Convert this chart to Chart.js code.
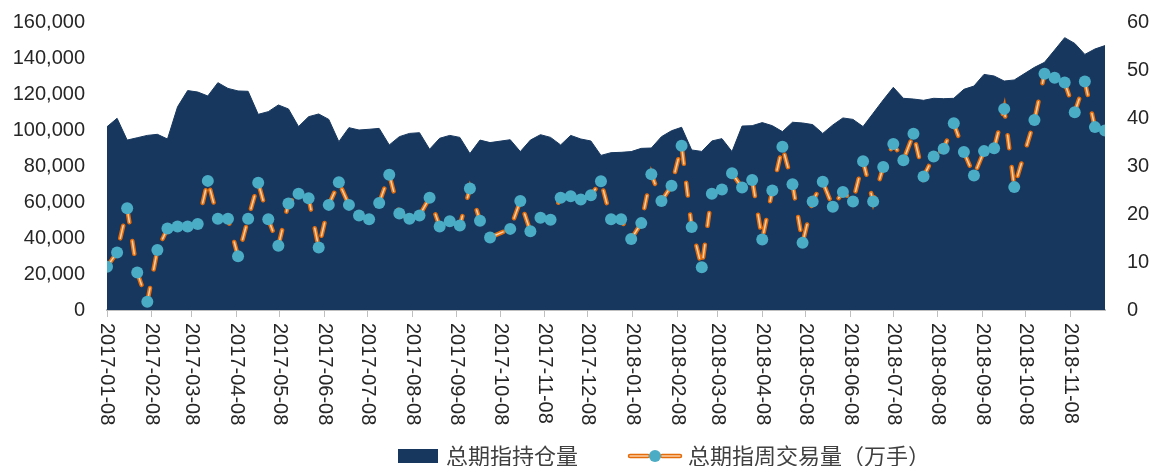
<!DOCTYPE html>
<html>
<head>
<meta charset="utf-8">
<script src="https://cdn.jsdelivr.net/npm/chart.js@4.4.1/dist/chart.umd.min.js"></script>
<style>
  html, body { margin: 0; padding: 0; background: #fff; }
  #wrap { width: 1152px; height: 466px; }
</style>
</head>
<body>
<div id="wrap"><canvas id="futuresChart"></canvas></div>
<script>
// weekly dates (week ending), holiday weeks 2017-10-08 and 2018-10-07 have no data
const weekDates = [
  '2017-01-08','2017-01-15','2017-01-22','2017-01-29','2017-02-05','2017-02-12','2017-02-19','2017-02-26',
  '2017-03-05','2017-03-12','2017-03-19','2017-03-26','2017-04-02','2017-04-09','2017-04-16','2017-04-23',
  '2017-04-30','2017-05-07','2017-05-14','2017-05-21','2017-05-28','2017-06-04','2017-06-11','2017-06-18',
  '2017-06-25','2017-07-02','2017-07-09','2017-07-16','2017-07-23','2017-07-30','2017-08-06','2017-08-13',
  '2017-08-20','2017-08-27','2017-09-03','2017-09-10','2017-09-17','2017-09-24','2017-10-01',
  '2017-10-15','2017-10-22','2017-10-29','2017-11-05','2017-11-12','2017-11-19','2017-11-26','2017-12-03',
  '2017-12-10','2017-12-17','2017-12-24','2017-12-31',
  '2018-01-07','2018-01-14','2018-01-21','2018-01-28','2018-02-04','2018-02-11','2018-02-18','2018-02-25',
  '2018-03-04','2018-03-11','2018-03-18','2018-03-25','2018-04-01','2018-04-08','2018-04-15','2018-04-22',
  '2018-04-29','2018-05-06','2018-05-13','2018-05-20','2018-05-27','2018-06-03','2018-06-10','2018-06-17',
  '2018-06-24','2018-07-01','2018-07-08','2018-07-15','2018-07-22','2018-07-29','2018-08-05','2018-08-12',
  '2018-08-19','2018-08-26','2018-09-02','2018-09-09','2018-09-16','2018-09-23','2018-09-30',
  '2018-10-14','2018-10-21','2018-10-28','2018-11-04','2018-11-11','2018-11-18','2018-11-25','2018-12-02'
];

// 总期指持仓量
const openInterest = [
  101800,106500,94400,95700,97000,97600,95000,112900,121900,121100,
  118900,126300,123100,121700,121500,108700,110200,113900,111700,101900,
  107400,108900,105900,93500,101300,100000,100400,100900,91700,96300,
  98100,98500,89300,95400,97000,95900,86900,94400,93000,
  94600,88000,94400,97400,95900,91700,97000,95000,93900,85900,87400,87600,
  88000,89800,90000,96300,99600,101500,88900,88100,
  93900,95200,88000,102200,102400,104100,102400,99100,104300,103900,
  103000,98100,102800,106700,105900,101900,109300,116700,123700,117600,
  117200,116500,117600,117400,117600,122600,124400,130900,130000,127200,
  127800,
  134800,137600,144400,151300,148100,142000,145000,146900
];

// 总期指周交易量（万手）
const weeklyVolume = [
  9.0,12.0,21.2,7.8,1.7,12.5,17.0,17.4,17.4,17.9,
  26.9,19.0,19.0,11.2,19.0,26.5,18.9,13.4,22.2,24.2,
  23.3,13.0,21.9,26.6,21.9,19.7,18.9,22.3,28.2,20.1,
  19.0,19.7,23.4,17.4,18.5,17.6,25.3,18.6,15.1,
  16.9,22.7,16.4,19.2,18.8,23.4,23.7,23.0,23.9,26.8,18.9,18.9,
  14.8,18.1,28.3,22.7,25.9,34.2,17.3,8.9,
  24.2,25.1,28.5,25.5,27.1,14.7,24.9,34.0,26.2,14.0,
  22.6,26.7,21.5,24.6,22.6,31.0,22.6,29.8,34.6,31.2,
  36.7,27.8,32.0,33.6,38.9,32.9,28.0,33.1,33.7,41.9,
  25.6,
  39.6,49.2,48.4,47.4,41.2,47.6,38.1,37.4
];

const monthTicks = [
  '2017-01-08','2017-02-08','2017-03-08','2017-04-08','2017-05-08','2017-06-08','2017-07-08','2017-08-08',
  '2017-09-08','2017-10-08','2017-11-08','2017-12-08','2018-01-08','2018-02-08','2018-03-08','2018-04-08',
  '2018-05-08','2018-06-08','2018-07-08','2018-08-08','2018-09-08','2018-10-08','2018-11-08'
];

const seriesNames = ['总期指持仓量', '总期指周交易量（万手）'];

const NAVY = '#17375e';
const ORANGE = '#e46c0a';
const ORANGE_LIGHT = '#fbd0a8';
const TEAL = '#4bacc6';
const LATIN = '"Liberation Sans", Arial, sans-serif';
const CJK = '"Noto Sans CJK SC", "Noto Sans", sans-serif';

// days since first date, used as x value
function dayOf(s) {
    const p = s.split('-').map(Number);
    return (Date.UTC(p[0], p[1] - 1, p[2]) - Date.UTC(2017, 0, 8)) / 86400000;
}

const holdPoints = weekDates.map((d, i) => ({ x: dayOf(d), y: openInterest[i] }));
const volPoints = weekDates.map((d, i) => ({ x: dayOf(d), y: weeklyVolume[i] }));

// rotated month labels under the x axis (read top to bottom)
const xLabelPlugin = {
    id: 'xLabels',
    afterDraw(chart) {
        const ctx = chart.ctx;
        const xs = chart.scales.x;
        ctx.save();
        ctx.font = '20px ' + LATIN;
        ctx.fillStyle = '#262626';
        ctx.textAlign = 'left';
        ctx.textBaseline = 'middle';
        monthTicks.forEach(t => {
            const px = xs.getPixelForValue(dayOf(t));
            ctx.save();
            ctx.translate(px, xs.top + 13);
            ctx.rotate(Math.PI / 2);
            ctx.fillText(t, 0, 0);
            ctx.restore();
        });
        ctx.restore();
    }
};

// legend at the bottom
const legendPlugin = {
    id: 'bottomLegend',
    afterDraw(chart) {
        const ctx = chart.ctx;
        const cy = 456;
        ctx.save();
        ctx.font = '22px ' + CJK;
        ctx.textBaseline = 'middle';
        ctx.textAlign = 'left';

        // 1. area item
        let x = 398;
        ctx.fillStyle = NAVY;
        ctx.fillRect(x, cy - 7, 40, 14);
        ctx.fillStyle = '#404040';
        ctx.fillText(seriesNames[0], x + 48, cy);
        x += 48 + ctx.measureText(seriesNames[0]).width + 52;

        // 2. line item
        ctx.lineCap = 'round';
        [[x, x + 18], [x + 32, x + 50]].forEach(seg => {
            ctx.strokeStyle = ORANGE;
            ctx.lineWidth = 4.5;
            ctx.beginPath(); ctx.moveTo(seg[0], cy); ctx.lineTo(seg[1], cy); ctx.stroke();
            ctx.strokeStyle = ORANGE_LIGHT;
            ctx.lineWidth = 1.5;
            ctx.beginPath(); ctx.moveTo(seg[0], cy); ctx.lineTo(seg[1], cy); ctx.stroke();
        });
        ctx.fillStyle = TEAL;
        ctx.beginPath(); ctx.arc(x + 25, cy, 6, 0, Math.PI * 2); ctx.fill();
        ctx.fillStyle = '#404040';
        ctx.fillText(seriesNames[1], x + 58, cy);
        ctx.restore();
    }
};

// invisible tick marks give the gap between plot and axis labels
const hiddenTicks = { display: true, drawOnChartArea: false, drawTicks: true, tickLength: 22, color: 'rgba(0,0,0,0)' };

const config = {
    type: 'line',
    data: {
        datasets: [{
            label: seriesNames[0],
            data: holdPoints,
            yAxisID: 'y',
            fill: 'origin',
            backgroundColor: NAVY,
            borderColor: NAVY,
            borderWidth: 1,
            pointRadius: 0,
            tension: 0,
            order: 3
        }, {
            label: seriesNames[1],
            data: volPoints,
            yAxisID: 'y1',
            borderColor: ORANGE,
            borderWidth: 4.5,
            borderDash: [13, 19],
            borderCapStyle: 'round',
            pointRadius: 0,
            fill: false,
            tension: 0,
            order: 2
        }, {
            label: seriesNames[1],
            data: volPoints,
            yAxisID: 'y1',
            borderColor: ORANGE_LIGHT,
            borderWidth: 1.5,
            borderDash: [13, 19],
            borderCapStyle: 'round',
            pointRadius: 6,
            pointBackgroundColor: TEAL,
            pointBorderColor: TEAL,
            pointBorderWidth: 0,
            fill: false,
            tension: 0,
            order: 1
        }]
    },
    options: {
        responsive: true,
        maintainAspectRatio: false,
        animation: false,
        devicePixelRatio: 1,
        layout: { padding: { top: 22, right: 0, bottom: 0, left: 0 } },
        plugins: {
            legend: { display: false },
            tooltip: { enabled: false }
        },
        scales: {
            x: {
                type: 'linear',
                min: 0,
                max: dayOf(weekDates[weekDates.length - 1]),
                afterBuildTicks: s => { s.ticks = monthTicks.map(t => ({ value: dayOf(t) })); },
                ticks: { display: false },
                grid: { display: true, drawOnChartArea: false, drawTicks: true, tickLength: 7, color: '#bfbfbf', lineWidth: 1 },
                border: { display: true, color: '#bfbfbf', width: 2 },
                afterFit: s => { s.height = 156; }
            },
            y: {
                position: 'left',
                min: 0,
                max: 160000,
                ticks: {
                    stepSize: 20000,
                    padding: 0,
                    color: '#262626',
                    font: { family: LATIN, size: 20 },
                    callback: v => v.toLocaleString('en-US')
                },
                grid: hiddenTicks,
                border: { display: false },
                afterFit: s => { s.width = 107; }
            },
            y1: {
                position: 'right',
                min: 0,
                max: 60,
                ticks: {
                    stepSize: 10,
                    padding: 0,
                    color: '#262626',
                    font: { family: LATIN, size: 20 }
                },
                grid: hiddenTicks,
                border: { display: false },
                afterFit: s => { s.width = 47; }
            }
        }
    },
    plugins: [xLabelPlugin, legendPlugin]
};

const futuresChart = new Chart(document.getElementById('futuresChart'), config);
</script>
</body>
</html>
